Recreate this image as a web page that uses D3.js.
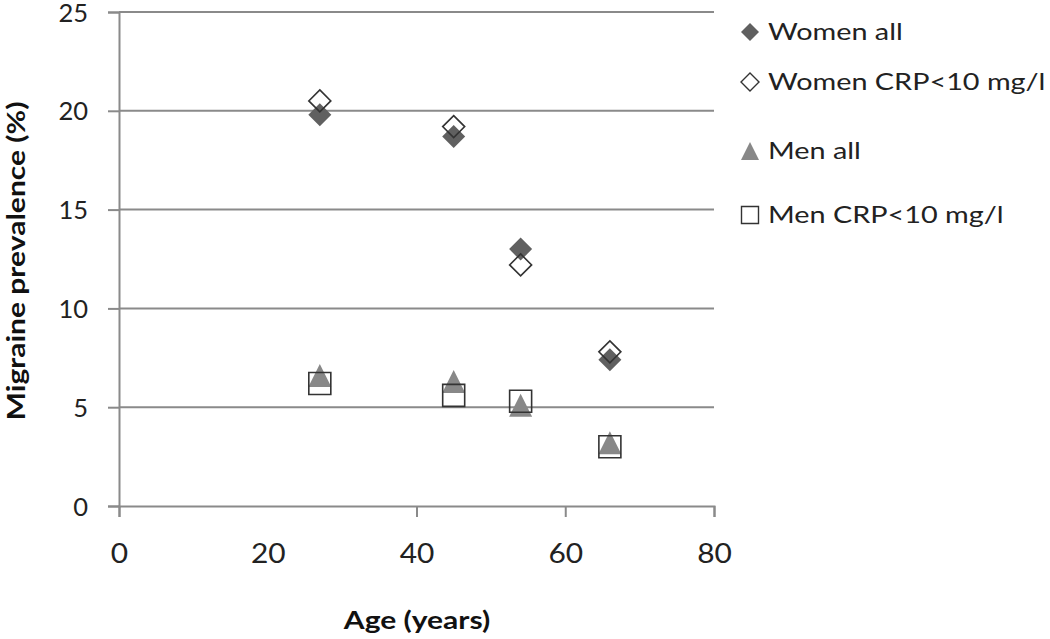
<!DOCTYPE html>
<html><head><meta charset="utf-8">
<script src="https://cdn.jsdelivr.net/npm/d3@7"></script>
<style>body{margin:0;background:#fff;} svg{display:block;}</style>
</head><body>
<svg id="chart" width="1050" height="639"></svg>
<script>
const ages = [27, 45, 54, 66];
const womenAll = [19.8, 18.7, 13.0, 7.4];
const womenCRP = [20.5, 19.2, 12.2, 7.8];
const menAll = [6.6, 6.3, 5.1, 3.2];
const menCRP = [6.2, 5.6, 5.3, 3.0];
const xTicks = [0, 20, 40, 60, 80];
const yTicks = [0, 5, 10, 15, 20, 25];
const seriesNames = ["Women all", "Women CRP<10 mg/l", "Men all", "Men CRP<10 mg/l"];

const svg = d3.select("#chart");
const FONT = "Lato, 'Open Sans', sans-serif";
const x = d3.scaleLinear().domain([0, 80]).range([119, 714]);
const y = d3.scaleLinear().domain([0, 25]).range([506, 12]);
const axisColor = "#8a8a8a";

function stretch(sel, f) {
  sel.each(function() {
    const w = this.getComputedTextLength();
    d3.select(this).attr("textLength", w * f).attr("lengthAdjust", "spacingAndGlyphs");
  });
}

// gridlines
svg.append("g").selectAll("line").data(yTicks.filter(d => d > 0)).join("line")
  .attr("x1", x(0)).attr("x2", x(80))
  .attr("y1", d => y(d)).attr("y2", d => y(d))
  .attr("stroke", axisColor).attr("stroke-width", 2);

// y axis
const yAxis = svg.append("g").attr("transform", `translate(${x(0)},0)`)
  .call(d3.axisLeft(y).tickValues(yTicks).tickSize(11).tickPadding(20).tickFormat(d3.format("d")));
yAxis.select(".domain").attr("stroke", axisColor).attr("stroke-width", 2);
yAxis.selectAll(".tick line").attr("stroke", axisColor).attr("stroke-width", 2);
yAxis.selectAll("text").attr("font-family", FONT).attr("font-size", 25.5).attr("fill", "#222").attr("dy", "0.36em");

// x axis
const xAxis = svg.append("g").attr("transform", `translate(0,${y(0)})`)
  .call(d3.axisBottom(x).tickValues(xTicks).tickSize(11).tickPadding(28).tickFormat(d3.format("d")));
xAxis.select(".domain").attr("stroke", axisColor).attr("stroke-width", 2);
xAxis.selectAll(".tick line").attr("stroke", axisColor).attr("stroke-width", 2)
  .attr("opacity", d => d === 20 ? 0 : 1);
xAxis.selectAll("text").attr("font-family", FONT).attr("font-size", 26).attr("fill", "#222");
stretch(xAxis.selectAll("text"), 1.15);

// titles
const yTitle = svg.append("text").attr("transform", `translate(16,261) rotate(-90)`)
  .attr("text-anchor", "middle").attr("dy", "0.35em")
  .attr("font-family", FONT).attr("font-weight", "bold").attr("font-size", 25).attr("fill", "#111")
  .text("Migraine prevalence (%)");
stretch(yTitle, 1.2);
const xTitle = svg.append("text").attr("x", 417).attr("y", 620).attr("dy", "0.35em")
  .attr("text-anchor", "middle")
  .attr("font-family", FONT).attr("font-weight", "bold").attr("font-size", 25).attr("fill", "#111")
  .text("Age (years)");
stretch(xTitle, 1.2);

// marker drawing
const diamond = (s) => `M0,${-s/2}L${s/2},0L0,${s/2}L${-s/2},0Z`;
const square = (s) => `M${-s/2},${-s/2}H${s/2}V${s/2}H${-s/2}Z`;
const triangle = (s) => `M0,${-s/2}L${s/2},${s/2}L${-s/2},${s/2}Z`;

const styles = [
  {path: diamond, size: 23, fill: "#606060", stroke: "none", sw: 0},
  {path: diamond, size: 22, fill: "none", stroke: "#333", sw: 1.6},
  {path: triangle, size: 23, fill: "#888", stroke: "none", sw: 0},
  {path: square, size: 22, fill: "none", stroke: "#333", sw: 1.6}
];
const seriesVals = [womenAll, womenCRP, menAll, menCRP];
const order = [0, 2, 1, 3];
order.forEach(i => {
  const st = styles[i];
  svg.append("g").selectAll("path").data(ages.map((a, k) => [a, seriesVals[i][k]])).join("path")
    .attr("transform", d => `translate(${x(d[0])},${y(d[1])})`)
    .attr("d", st.path(st.size))
    .attr("fill", st.fill).attr("stroke", st.stroke).attr("stroke-width", st.sw);
});

// legend
const legendY = [32, 82, 151, 215];
const lg = svg.append("g");
seriesNames.forEach((name, i) => {
  const st = styles[i];
  lg.append("path").attr("transform", `translate(750,${legendY[i]})`)
    .attr("d", st.path(i === 3 ? 17 : 18))
    .attr("fill", st.fill).attr("stroke", st.stroke).attr("stroke-width", st.sw === 0 ? 0 : 1.4);
  const t = lg.append("text").attr("x", 768).attr("y", legendY[i]).attr("dy", "0.35em")
    .attr("font-family", FONT).attr("font-size", 24).attr("fill", "#222").text(name);
  stretch(t, 1.2);
});
</script>
</body></html>
